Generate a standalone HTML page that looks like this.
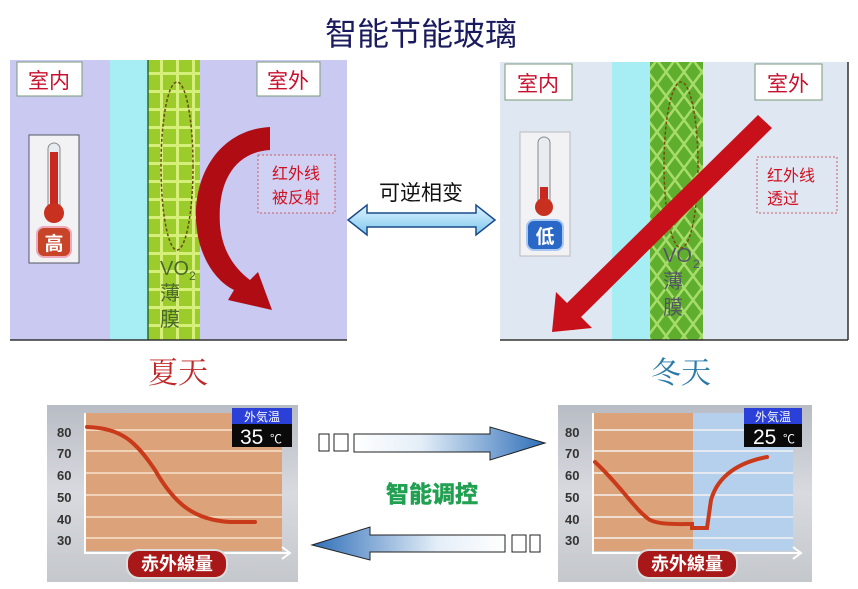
<!DOCTYPE html>
<html><head><meta charset="utf-8"><style>
html,body{margin:0;padding:0;background:#fff;width:858px;height:589px;overflow:hidden}
text{font-family:"Liberation Sans","Noto Sans CJK SC",sans-serif}
</style></head><body>
<svg width="858" height="589" viewBox="0 0 858 589" xmlns="http://www.w3.org/2000/svg">
<defs>
<pattern id="grid" width="16" height="18" patternUnits="userSpaceOnUse">
<rect width="16" height="18" fill="#9ccc2c"/><rect x="0" y="0" width="3" height="18" fill="#d6ef7a"/><rect x="0" y="0" width="16" height="3" fill="#d6ef7a"/></pattern>
<pattern id="diag" width="18" height="24" patternUnits="userSpaceOnUse">
<rect width="18" height="24" fill="#5fae2e"/><path d="M0 24 L18 0 M0 0 L18 24" stroke="#a6dc6a" stroke-width="2.5"/></pattern>
<linearGradient id="gr" x1="0" x2="1"><stop offset="0" stop-color="#fff"/><stop offset="0.35" stop-color="#e4eef8"/><stop offset="1" stop-color="#2f6fb8"/></linearGradient>
<linearGradient id="gl" x1="1" x2="0"><stop offset="0" stop-color="#fff"/><stop offset="0.35" stop-color="#e4eef8"/><stop offset="1" stop-color="#2f6fb8"/></linearGradient>
<linearGradient id="cbg" x1="0" y1="0" x2="0" y2="1"><stop offset="0" stop-color="#b8bcc4"/><stop offset="0.5" stop-color="#d8dadf"/><stop offset="1" stop-color="#c4c7cc"/></linearGradient>
<linearGradient id="dbl" x1="0" y1="0" x2="0" y2="1"><stop offset="0" stop-color="#e0f4ff"/><stop offset="1" stop-color="#7cc6ec"/></linearGradient>
</defs>

<text x="421" y="45" font-size="32" fill="#1a1a5e" text-anchor="middle">智能节能玻璃</text>

<!-- left panel -->
<rect x="10" y="60" width="337" height="280" fill="#c9c9f2"/>
<rect x="110" y="60" width="38" height="280" fill="#a6eef4"/>
<rect x="148" y="60" width="52" height="280" fill="url(#grid)"/>
<line x1="148" y1="60" x2="148" y2="340" stroke="#2a6a2a" stroke-width="1.5"/>
<line x1="10" y1="340" x2="347" y2="340" stroke="#333" stroke-width="1.5"/>
<rect x="17" y="62" width="65" height="34" fill="#fff" stroke="#7a9a7a"/>
<text x="49" y="88" font-size="21" fill="#c8102e" text-anchor="middle">室内</text>
<rect x="257" y="62" width="63" height="34" fill="#fff" stroke="#7a9a7a"/>
<text x="288" y="88" font-size="21" fill="#c8102e" text-anchor="middle">室外</text>
<rect x="29" y="135" width="50" height="128" fill="#f2f2f4" stroke="#556"/>
<rect x="48" y="143" width="12" height="70" rx="6" fill="#e8ecf0" stroke="#888"/>
<rect x="50" y="152" width="8" height="60" fill="#c82820"/>
<circle cx="54" cy="213" r="10" fill="#c83020"/>
<rect x="37" y="227" width="34" height="30" rx="7" fill="#c84428" stroke="#eab" stroke-width="2"/>
<text x="54" y="250" font-size="19" fill="#fff" text-anchor="middle" font-weight="bold">高</text>
<ellipse cx="177" cy="166" rx="16" ry="84" fill="none" stroke="#6a4a10" stroke-width="1.5" stroke-dasharray="3,2"/>
<text x="160" y="275" font-size="20" fill="#4a6a2a">VO</text>
<text x="189" y="280" font-size="12" fill="#4a6a2a">2</text>
<text x="160" y="300" font-size="20" fill="#4a6a2a">薄</text>
<text x="160" y="326" font-size="20" fill="#4a6a2a">膜</text>
<path d="M270 127 C212 130 185 190 200 245 C207 268 220 283 234 290 L228 300 L272 310 L258 272 L250 280 C234 268 222 250 220 225 C217 180 236 152 270 150 Z" fill="#b00c14"/>
<rect x="258" y="155" width="77" height="58" fill="#fff" fill-opacity="0.15" stroke="#c86060" stroke-dasharray="2,2"/>
<text x="296" y="179" font-size="16" fill="#d01020" text-anchor="middle">红外线</text>
<text x="296" y="203" font-size="16" fill="#d01020" text-anchor="middle">被反射</text>

<!-- middle -->
<text x="421" y="200" font-size="21" fill="#111" text-anchor="middle">可逆相变</text>
<path d="M348 220 L367 205 L367 213 L476 213 L476 205 L495 220 L476 235 L476 227 L367 227 L367 235 Z" fill="url(#dbl)" stroke="#1a4a8a" stroke-width="1.5"/>

<!-- right panel -->
<rect x="500" y="62" width="348" height="278" fill="#dfe7f3"/>
<rect x="612" y="62" width="38" height="278" fill="#a6eef4"/>
<rect x="650" y="62" width="53" height="278" fill="url(#diag)"/>
<line x1="848" y1="62" x2="848" y2="340" stroke="#333" stroke-width="1.5"/>
<line x1="500" y1="340" x2="848" y2="340" stroke="#333" stroke-width="1.5"/>
<rect x="505" y="64" width="67" height="36" fill="#fff" stroke="#7a9a7a"/>
<text x="538" y="91" font-size="21" fill="#c8102e" text-anchor="middle">室内</text>
<rect x="755" y="64" width="67" height="36" fill="#fff" stroke="#7a9a7a"/>
<text x="788" y="91" font-size="21" fill="#c8102e" text-anchor="middle">室外</text>
<rect x="520" y="132" width="50" height="124" fill="#f2f2f4" stroke="#bbb"/>
<rect x="538" y="137" width="12" height="70" rx="6" fill="#e8ecf0" stroke="#888"/>
<rect x="540" y="187" width="8" height="22" fill="#c82820"/>
<circle cx="544" cy="207" r="9" fill="#c83020"/>
<rect x="527" y="220" width="36" height="30" rx="7" fill="#2a68c8" stroke="#a8c8f0" stroke-width="2"/>
<text x="545" y="243" font-size="19" fill="#fff" text-anchor="middle" font-weight="bold">低</text>
<ellipse cx="681" cy="165" rx="17" ry="83" fill="none" stroke="#7a4a10" stroke-width="1.5" stroke-dasharray="3,2"/>
<text x="663" y="262" font-size="20" fill="#556">VO</text>
<text x="693" y="268" font-size="12" fill="#556">2</text>
<text x="663" y="288" font-size="20" fill="#556">薄</text>
<text x="663" y="314" font-size="20" fill="#556">膜</text>
<path d="M758 115 L772 128 L580 318 L574 330 L553 330 L555 308 L566 304 Z" fill="#c8101a"/>
<path d="M552 332 L556 292 L592 328 Z" fill="#c8101a"/>
<rect x="757" y="157" width="80" height="56" fill="none" stroke="#c86060" stroke-dasharray="2,2"/>
<text x="767" y="181" font-size="16" fill="#d01020">红外线</text>
<text x="767" y="204" font-size="16" fill="#d01020">透过</text>

<text x="178" y="383" font-size="30" fill="#c0282a" text-anchor="middle" style="font-family:'Liberation Serif','Noto Serif CJK SC',serif">夏天</text>
<text x="681" y="383" font-size="30" fill="#2a7aaa" text-anchor="middle" style="font-family:'Liberation Serif','Noto Serif CJK SC',serif">冬天</text>

<!-- left chart -->
<rect x="47" y="405" width="251" height="177" fill="url(#cbg)"/>
<rect x="85" y="413" width="197" height="138" fill="#dca27a"/>
<g stroke="#f6e2cc" stroke-width="1.5">
<line x1="85" y1="430" x2="282" y2="430"/><line x1="85" y1="451" x2="282" y2="451"/><line x1="85" y1="473" x2="282" y2="473"/><line x1="85" y1="495" x2="282" y2="495"/><line x1="85" y1="517" x2="282" y2="517"/><line x1="85" y1="538" x2="282" y2="538"/></g>
<path d="M85 413 L85 553 L288 553" fill="none" stroke="#fff" stroke-width="2"/>
<path d="M282 547 L290 553 L282 559" fill="none" stroke="#fff" stroke-width="2"/>
<g font-size="13" fill="#333" font-weight="bold"><text x="57" y="437">80</text><text x="57" y="458">70</text><text x="57" y="480">60</text><text x="57" y="502">50</text><text x="57" y="524">40</text><text x="57" y="545">30</text></g>
<path d="M87 427 C120 428 135 440 155 470 C175 505 195 520 230 522 L255 522" fill="none" stroke="#c83a1a" stroke-width="4" stroke-linecap="round"/>
<rect x="232" y="408" width="60" height="16" fill="#2a40d8"/><text x="262" y="421" font-size="12" fill="#fff" text-anchor="middle">外気温</text>
<rect x="232" y="424" width="60" height="23" fill="#0a0a0a"/><text x="240" y="444" font-size="21" fill="#fff">35</text><text x="270" y="443" font-size="12" fill="#fff">℃</text>
<rect x="127" y="550" width="100" height="28" rx="12" fill="#a81818" stroke="#ddd" stroke-width="2"/>
<text x="177" y="570" font-size="18" fill="#fff" text-anchor="middle" font-weight="bold">赤外線量</text>

<!-- right chart -->
<rect x="558" y="405" width="254" height="177" fill="url(#cbg)"/>
<rect x="593" y="413" width="100" height="138" fill="#dca27a"/>
<rect x="693" y="413" width="100" height="138" fill="#b4d0ec"/>
<g stroke="#f4f2f0" stroke-width="1.5">
<line x1="593" y1="430" x2="793" y2="430"/><line x1="593" y1="451" x2="793" y2="451"/><line x1="593" y1="473" x2="793" y2="473"/><line x1="593" y1="495" x2="793" y2="495"/><line x1="593" y1="517" x2="793" y2="517"/><line x1="593" y1="538" x2="793" y2="538"/></g>
<path d="M593 413 L593 553 L800 553" fill="none" stroke="#fff" stroke-width="2"/>
<path d="M793 547 L801 553 L793 559" fill="none" stroke="#fff" stroke-width="2"/>
<g font-size="13" fill="#333" font-weight="bold"><text x="565" y="437">80</text><text x="565" y="458">70</text><text x="565" y="480">60</text><text x="565" y="502">50</text><text x="565" y="524">40</text><text x="565" y="545">30</text></g>
<path d="M595 462 C620 485 635 510 650 520 C660 525 680 524 692 524 L692 528 L707 528 L711 500 C718 475 740 462 767 457" fill="none" stroke="#c83a1a" stroke-width="4" stroke-linecap="round"/>
<rect x="744" y="408" width="58" height="16" fill="#2a40d8"/><text x="773" y="421" font-size="12" fill="#fff" text-anchor="middle">外気温</text>
<rect x="744" y="424" width="58" height="23" fill="#0a0a0a"/><text x="753" y="444" font-size="21" fill="#fff">25</text><text x="783" y="443" font-size="12" fill="#fff">℃</text>
<rect x="637" y="550" width="100" height="28" rx="12" fill="#a81818" stroke="#ddd" stroke-width="2"/>
<text x="687" y="570" font-size="18" fill="#fff" text-anchor="middle" font-weight="bold">赤外線量</text>

<!-- middle bottom arrows -->
<rect x="319" y="434" width="10" height="17" fill="#fff" stroke="#222"/>
<rect x="334" y="434" width="14" height="17" fill="#fff" stroke="#222"/>
<path d="M354 434 L490 434 L490 427 L545 443 L490 460 L490 452 L354 452 Z" fill="url(#gr)" stroke="#222"/>
<text x="432" y="502" font-size="23" fill="#20a050" text-anchor="middle" font-weight="bold" stroke="#20a050" stroke-width="0.6">智能调控</text>
<path d="M505 535 L370 535 L370 527 L312 545 L370 560 L370 552 L505 552 Z" fill="url(#gl)" stroke="#222"/>
<rect x="512" y="535" width="14" height="17" fill="#fff" stroke="#222"/>
<rect x="530" y="535" width="10" height="17" fill="#fff" stroke="#222"/>
</svg>
</body></html>
